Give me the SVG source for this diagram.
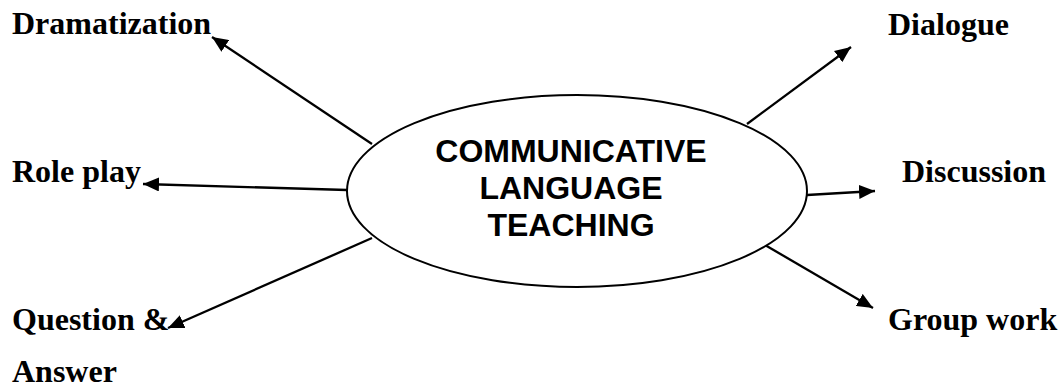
<svg xmlns="http://www.w3.org/2000/svg" width="1060" height="387" viewBox="0 0 1060 387">
<style>
.lbl{font-family:"Liberation Serif","Times New Roman",serif;font-weight:bold;font-size:32px;fill:#000}
.ctr{font-family:"Liberation Sans",Arial,sans-serif;font-weight:bold;font-size:32px;fill:#000;text-anchor:middle}
.con{stroke:#000;stroke-width:2.3;fill:none;marker-end:url(#ah)}
</style>
<defs>
<marker id="ah" markerUnits="userSpaceOnUse" markerWidth="18" markerHeight="14" refX="16" refY="7" orient="auto">
<path d="M0,0 L16,7 L0,14 z" fill="#000"/>
</marker>
</defs>
<rect width="1060" height="387" fill="#fff"/>
<g id="connectors">
<line class="con" x1="372" y1="144" x2="212" y2="37"/>
<line class="con" x1="347" y1="190" x2="143" y2="184"/>
<line class="con" x1="372" y1="238" x2="168" y2="328"/>
<line class="con" x1="747" y1="124" x2="851" y2="47"/>
<line class="con" x1="807" y1="195" x2="875" y2="191"/>
<line class="con" x1="765" y1="245" x2="873" y2="308"/>
</g>
<g id="center">
<ellipse cx="577" cy="191" rx="230" ry="96" fill="#fff" stroke="#000" stroke-width="2"/>
<text class="ctr" x="571" y="162">COMMUNICATIVE</text>
<text class="ctr" x="571" y="199">LANGUAGE</text>
<text class="ctr" x="571" y="236">TEACHING</text>
</g>
<g id="dramatization"><text class="lbl" x="12" y="34">Dramatization</text></g>
<g id="roleplay"><text class="lbl" x="12" y="182">Role play</text></g>
<g id="question"><text class="lbl" x="12" y="330">Question &amp;</text><text class="lbl" x="12" y="382">Answer</text></g>
<g id="dialogue"><text class="lbl" x="888" y="35">Dialogue</text></g>
<g id="discussion"><text class="lbl" x="902" y="182">Discussion</text></g>
<g id="groupwork"><text class="lbl" x="888" y="330">Group work</text></g>
</svg>
